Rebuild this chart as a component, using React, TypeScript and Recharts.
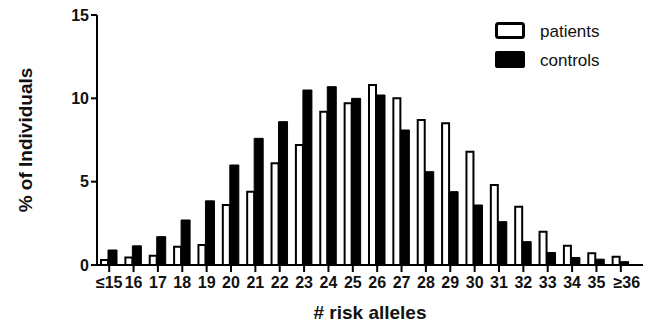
import React from "react";
import { BarChart, Bar, XAxis, YAxis, Legend, Label } from "recharts";

// # risk alleles categories
const alleleLabels = [
  "≤15", "16", "17", "18", "19", "20", "21", "22", "23", "24", "25",
  "26", "27", "28", "29", "30", "31", "32", "33", "34", "35", "≥36",
];

// % of individuals
const patients = [
  0.3, 0.45, 0.55, 1.1, 1.2, 3.6, 4.4, 6.1, 7.2, 9.2, 9.7,
  10.8, 10.0, 8.7, 8.5, 6.8, 4.8, 3.5, 2.0, 1.15, 0.7, 0.5,
];
const controls = [
  0.9, 1.15, 1.7, 2.7, 3.85, 6.0, 7.6, 8.6, 10.5, 10.7, 10.0,
  10.2, 8.1, 5.6, 4.4, 3.6, 2.6, 1.4, 0.75, 0.45, 0.35, 0.2,
];

const yTicks = [0, 5, 10, 15];

const data = alleleLabels.map((allele, i) => ({
  allele,
  patients: patients[i],
  controls: controls[i],
}));

const FONT = "'Liberation Sans', Arial, sans-serif";
const tickStyle = { fontFamily: FONT, fontSize: 16, fontWeight: 700, fill: "#111" };
const titleStyle = { fontFamily: FONT, fontSize: 19, fontWeight: 700, fill: "#111" };

// the "≥36" label sits a bit right of its tick in the original
const XTick = (props: any) => {
  const { x, y, payload } = props;
  const shift = payload.value.startsWith("≥") ? 6 : 0;
  return (
    <text x={x + shift} y={y} dy={14} textAnchor="middle" style={tickStyle}>
      {payload.value}
    </text>
  );
};

const renderLegend = () => (
  <svg width={140} height={56}>
    <rect x={3.5} y={4.5} width={27} height={14} rx={2} fill="#fff" stroke="#000" strokeWidth={3} />
    <rect x={2} y={32} width={30} height={17} rx={2} fill="#000" />
    <text x={47} y={12} dominantBaseline="central" style={{ fontFamily: FONT, fontSize: 17, fill: "#111" }}>
      patients
    </text>
    <text x={47} y={41} dominantBaseline="central" style={{ fontFamily: FONT, fontSize: 17, fill: "#111" }}>
      controls
    </text>
  </svg>
);

export default function App() {
  return (
    <div style={{ position: "absolute", left: 0, top: 0, background: "#fff" }}>
      <BarChart
        width={649}
        height={325}
        data={data}
        margin={{ top: 15, right: 6, left: 0, bottom: 0 }}
        barGap={0}
      >
        <XAxis
          dataKey="allele"
          height={60}
          padding={{ left: 0, right: 10 }}
          interval={0}
          tick={<XTick />}
          tickSize={7}
          tickLine={{ stroke: "#000", strokeWidth: 2 }}
          axisLine={{ stroke: "#000", strokeWidth: 2 }}
        >
          <Label value="# risk alleles" position="insideBottom" offset={6} style={titleStyle} />
        </XAxis>
        <YAxis
          width={97}
          domain={[0, 15]}
          ticks={yTicks}
          interval={0}
          tick={tickStyle}
          tickSize={6}
          tickLine={{ stroke: "#000", strokeWidth: 2 }}
          axisLine={{ stroke: "#000", strokeWidth: 2 }}
        >
          <Label value="% of Individuals" angle={-90} position="center" dx={-23} style={titleStyle} />
        </YAxis>
        <Legend
          layout="horizontal"
          verticalAlign="middle"
          align="center"
          content={renderLegend}
          wrapperStyle={{ position: "absolute", left: 493, top: 19, width: 140, height: 56 }}
        />
        <Bar dataKey="patients" barSize={7} fill="#fff" stroke="#000" strokeWidth={2} isAnimationActive={false} />
        <Bar dataKey="controls" barSize={9} fill="#000" stroke="#000" strokeWidth={1} isAnimationActive={false} />
      </BarChart>
    </div>
  );
}
